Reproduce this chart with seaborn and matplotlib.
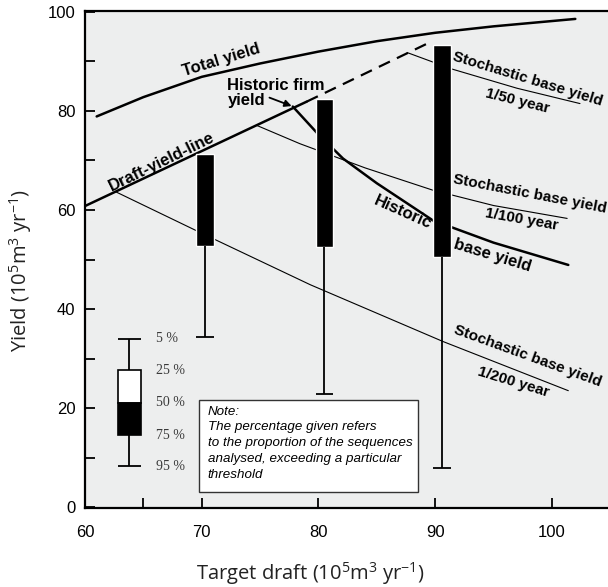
import numpy as np
import pandas as pd
import seaborn as sns
import matplotlib.pyplot as plt
from matplotlib.patches import Rectangle

# curves (target draft, yield)
total_x = [61, 65, 70, 75, 80, 85, 90, 95, 102]
total_y = [78.9, 82.8, 86.9, 89.6, 92.0, 94.1, 95.8, 97.1, 98.6]

draft_x = [60, 79]
draft_y = [60.8, 81.9]
draft_dash_x = [79, 89.3]
draft_dash_y = [81.9, 93.6]

hist_base_x = [77.8, 79.9, 82.1, 85.0, 89.8, 95.0, 101.4]
hist_base_y = [80.9, 75.5, 70.4, 65.4, 57.9, 53.4, 48.9]

stoch50_x = [87.6, 91.4, 97.0, 102.4]
stoch50_y = [91.8, 88.5, 84.6, 81.5]
stoch100_x = [74.7, 78.4, 84.0, 89.8, 95.0, 101.3]
stoch100_y = [77.1, 73.4, 68.5, 64.0, 60.9, 58.3]
stoch200_x = [62.7, 70.0, 79.3, 90.7, 101.4]
stoch200_y = [63.6, 55.3, 44.9, 33.4, 23.5]

# boxes: 50 % (top), 75 % (box bottom), 95 % (whisker end)
box_pos = [70.3, 80.5, 90.6]
box_q50 = [71.4, 82.5, 93.4]
box_q75 = [52.7, 52.5, 50.5]
box_q95 = [34.4, 22.9, 7.8]

# key box
key_pos = 63.8
key_levels = [34.0, 27.6, 21.1, 14.5, 8.2]
key_labels = ['5 %', '25 %', '50 %', '75 %', '95 %']

firm_point = (77.7, 81.0)

sns.set_theme(style='ticks')
plt.rcParams['font.family'] = ['Liberation Sans', 'DejaVu Sans']
plt.rcParams['mathtext.default'] = 'regular'
plt.rcParams['text.color'] = 'black'

fig = plt.figure(figsize=(6.08, 5.87), dpi=100)
ax = fig.add_axes([85/608, 1 - 508/587, 523/608, 497/587])
ax.set_facecolor('#edeeee')

thick = 1.8
thin = 0.8
sns.lineplot(x=total_x, y=total_y, ax=ax, color='black', lw=thick)
sns.lineplot(x=draft_x, y=draft_y, ax=ax, color='black', lw=thick)
sns.lineplot(x=draft_dash_x, y=draft_dash_y, ax=ax, color='black', lw=1.6,
             linestyle=(0, (5.5, 3.5)))
sns.lineplot(x=hist_base_x, y=hist_base_y, ax=ax, color='black', lw=thick)
for xs, ys in [(stoch50_x, stoch50_y), (stoch100_x, stoch100_y), (stoch200_x, stoch200_y)]:
    sns.lineplot(x=xs, y=ys, ax=ax, color='black', lw=thin)

# boxes
bw = 1.5
pos = np.array(box_pos)
q50 = np.array(box_q50)
q75 = np.array(box_q75)
q95 = np.array(box_q95)
ax.bar(pos, q50 - q75, bottom=q75, width=bw, color='black', zorder=3)
ax.vlines(pos, q95, q75, color='black', lw=1.3, zorder=3)
ax.hlines(q95, pos - bw/2, pos + bw/2, color='black', lw=1.3, zorder=3)

# key box
kw = 2.0
ax.vlines(key_pos, key_levels[4], key_levels[0], color='black', lw=1.3, zorder=3)
ax.hlines([key_levels[0], key_levels[4]], key_pos - kw/2, key_pos + kw/2, color='black', lw=1.3, zorder=3)
ax.bar([key_pos], [key_levels[1] - key_levels[2]], bottom=key_levels[2], width=kw,
       color='white', edgecolor='black', lw=1.2, zorder=4)
ax.bar([key_pos], [key_levels[2] - key_levels[3]], bottom=key_levels[3], width=kw,
       color='black', edgecolor='black', lw=1.2, zorder=4)
for lev, lab in zip(key_levels, key_labels):
    ax.text(66.1, lev, lab, ha='left', va='center', fontsize=10,
            family='Liberation Serif', color='#3a3a3a')

# note box
ax.add_patch(Rectangle((69.8, 3.0), 18.7, 18.7, facecolor='white', edgecolor='#333333',
                       lw=1.0, zorder=5))
ax.text(70.5, 20.5, 'Note:\nThe percentage given refers\nto the proportion of the sequences\n'
        'analysed, exceeding a particular\nthreshold', ha='left', va='top',
        fontsize=9.6, style='italic', linespacing=1.42, zorder=6)

# curve labels
lab = dict(fontsize=12, fontweight='bold', ha='center', va='center', rotation_mode='anchor')
ax.text(71.7, 90.3, 'Total yield', rotation=17, **lab)
ax.text(66.6, 69.8, 'Draft-yield-line', rotation=26, **lab)
ax.text(72.2, 86.6, 'Historic firm\nyield', fontsize=12, fontweight='bold', ha='left',
        va='top', linespacing=0.95)
ax.annotate('', xy=firm_point, xytext=(75.8, 82.7),
            arrowprops=dict(arrowstyle='-|>', color='black', lw=1.3, mutation_scale=10,
                            shrinkA=0, shrinkB=0))
ax.text(87.2, 59.6, 'Historic', rotation=-24, **lab)
ax.text(94.9, 50.9, 'base yield', rotation=-17, **lab)

slab = dict(lab, fontsize=11)
ax.text(97.9, 86.5, 'Stochastic base yield', rotation=-17, **slab)
ax.text(97.0, 81.9, '1/50 year', rotation=-14, **slab)
ax.text(98.1, 63.2, 'Stochastic base yield', rotation=-11, **slab)
ax.text(97.4, 58.0, '1/100 year', rotation=-10, **slab)
ax.text(97.9, 30.4, 'Stochastic base yield', rotation=-20, **slab)
ax.text(96.7, 25.2, '1/200 year', rotation=-17, **slab)

# axes
ax.set_xlim(60, 104.8)
ax.set_ylim(-0.2, 100.2)
ax.set_xticks([60, 70, 80, 90, 100])
ax.set_xticks([65], minor=True)
ax.set_yticks([0, 20, 40, 60, 80, 100])
ax.set_yticks([10, 30, 50, 70, 90], minor=True)
ax.tick_params(which='both', direction='in', length=7, width=1.3, colors='black',
               labelsize=12)
ax.tick_params(axis='x', which='both', pad=12)
ax.tick_params(axis='y', which='both', pad=7)
for s in ['left', 'bottom', 'top']:
    ax.spines[s].set_color('black')
    ax.spines[s].set_linewidth(1.6)
ax.spines['right'].set_visible(False)

ax.set_xlabel('Target draft (10$^5$m$^3$ yr$^{\u22121}$)', fontsize=14.5, family='Open Sans',
              color='#222222')
ax.set_ylabel('Yield (10$^5$m$^3$ yr$^{\u22121}$)', fontsize=14.5, family='Open Sans',
              color='#222222')
ax.xaxis.set_label_coords((310 - 85) / 523, -(574 - 508) / 497)
ax.xaxis.label.set_va('center')
ax.yaxis.set_label_coords((21 - 85) / 523, (508 - 270) / 497)
ax.yaxis.label.set_va('center')

fig.savefig('out.png', dpi=100)
